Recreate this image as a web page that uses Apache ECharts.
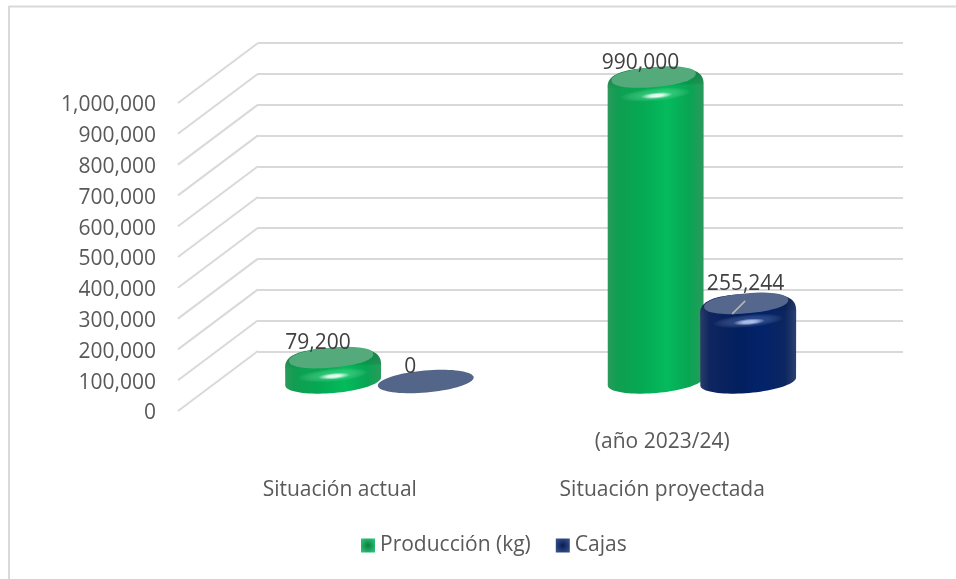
<!DOCTYPE html>
<html><head><meta charset="utf-8">
<style>html,body{margin:0;padding:0;background:#fff}#c{width:956px;height:579px}</style>
<script src="https://cdn.jsdelivr.net/npm/echarts@6/dist/echarts.min.js"></script>
</head><body><div id="c"></div>
<script>
const categories = ['Situación actual', 'Situación proyectada'];
const subCategories = ['', '(año 2023/24)'];
const produccion = [79200, 990000];
const cajas = [0, 255244];
const seriesNames = ['Producción (kg)', 'Cajas'];
const FONT = '"Open Sans", "Noto Sans", sans-serif';
const TXT = '#595959';
const GRIDC = '#d9d9d9';

const chart = echarts.init(document.getElementById('c'), null, {renderer: 'canvas'});
const fmt = v => Number(v).toLocaleString('en-US');

const TILT = -5 * Math.PI / 180;
function ell(cx, cy, a, b, t0, t1, n, ex, tilt) {
  const pts = [];
  const e = ex || 1;
  const th = tilt === undefined ? TILT : tilt;
  const pw = v => Math.sign(v) * Math.pow(Math.abs(v), e);
  for (let i = 0; i <= n; i++) {
    const t = t0 + (t1 - t0) * i / n;
    const x = a * pw(Math.cos(t)), y = b * pw(Math.sin(t));
    pts.push([cx + x * Math.cos(th) - y * Math.sin(th), cy + x * Math.sin(th) + y * Math.cos(th)]);
  }
  return pts;
}
const lg = (stops, x2, y2) => new echarts.graphic.LinearGradient(0, 0, x2, y2, stops.map(s => ({offset: s[0], color: s[1]})));
const rg = stops => new echarts.graphic.RadialGradient(0.5, 0.5, 0.5, stops.map(s => ({offset: s[0], color: s[1]})));
const PAL = [
  { body: [[0,'#2a9a5c'],[0.1,'#109e52'],[0.35,'#05a853'],[0.62,'#04bb5c'],[0.85,'#08a553'],[1,'#2a9a5c']],
    top: '#55aa7c', shade: 'rgba(0,70,35,0.3)', hi: 'rgba(235,255,245,0.95)', glow: 'rgba(40,225,125,0.55)' },
  { body: [[0,'#2a3c68'],[0.1,'#0f2660'],[0.4,'#021f5e'],[0.65,'#03236a'],[0.88,'#0b2660'],[1,'#2d4070']],
    top: '#55678c', shade: 'rgba(0,10,50,0.3)', hi: 'rgba(190,212,255,0.85)', glow: 'rgba(50,90,190,0.5)' }
];

function cylinder(idx, offsetFrac) {
  return function (params, api) {
    const cat = api.value(0), val = api.value(1);
    const base = api.coord([cat, 0]);
    const top = api.coord([cat, val]);
    const band = api.size([1, 0])[0];
    const cx = base[0] + band * offsetFrac;
    const a = band * 0.149;
    const p = PAL[idx];
    const kids = [];
    if (val === 0) {
      kids.push({type: 'polygon', shape: {points: ell(cx, base[1], a, 11, 0, Math.PI * 2, 72)}, style: {fill: '#536689'}});
    } else {
      const ty = top[1];
      const silTilt = -3 * Math.PI / 180;
      const upper = ell(cx, ty + 10, a, 19, Math.PI, Math.PI * 2, 60, 0.72, silTilt);
      const lower = ell(cx, base[1], a, 11.5, 0, Math.PI, 40);
      kids.push({type: 'polygon', shape: {points: upper.concat(lower)}, style: {fill: lg(p.body, 1, 0)}});
      kids.push({type: 'polygon', shape: {points: upper},
        style: {fill: lg([[0, p.shade], [1, 'rgba(0,0,0,0)']], 0, 1)}});
      kids.push({type: 'circle', x: cx, y: ty + 18, scaleX: 5.5, rotation: 5 * Math.PI / 180, shape: {cx: 0, cy: 0, r: 6.5},
        style: {fill: rg([[0, p.glow], [1, 'rgba(255,255,255,0)']])}});
      kids.push({type: 'circle', x: cx + 1, y: ty + 19, scaleX: 5, rotation: 5 * Math.PI / 180, shape: {cx: 0, cy: 0, r: 3.2},
        style: {fill: rg([[0, p.hi], [0.35, p.hi], [1, 'rgba(255,255,255,0)']])}});
      kids.push({type: 'polygon', shape: {points: ell(cx - 2, ty + 0.5, a * 0.88, 10, 0, Math.PI * 2, 60, 0.92)}, style: {fill: p.top}});
      if (idx === 1) {
        kids.push({type: 'line', shape: {x1: cx - 16, y1: ty + 11, x2: cx - 3, y2: ty - 2},
          style: {stroke: '#b5b5b5', lineWidth: 1.5}});
      }
    }
    return {type: 'group', children: kids};
  };
}

function labelSeries(name, values, offsetFrac, zeroFrac, dy) {
  return {
    type: 'custom', xAxisIndex: 1, yAxisIndex: 1, z: 10, silent: true,
    name: '_' + name, legendHoverLink: false,
    data: values.map((v, i) => [i, v]),
    renderItem(params, api) {
      const c = api.coord([api.value(0), api.value(1)]);
      const band = api.size([1, 0])[0];
      const zero = api.value(1) === 0;
      return {type: 'text', style: {
        text: fmt(api.value(1)), x: c[0] + band * (zero ? zeroFrac : offsetFrac), y: c[1] + (zero ? -14.5 : dy),
        align: 'center', verticalAlign: 'middle', fill: '#404040', font: '21px ' + FONT}};
    }
  };
}

const ticks = [0,100000,200000,300000,400000,500000,600000,700000,800000,900000,1000000];

chart.setOption({
  animation: false,
  backgroundColor: '#fff',
  graphic: [
    {type: 'line', shape: {x1: 8.5, y1: 6.5, x2: 956, y2: 6.5}, style: {stroke: '#d9d9d9', lineWidth: 2}, z: 0},
    {type: 'line', shape: {x1: 9, y1: 6, x2: 9, y2: 579}, style: {stroke: '#d9d9d9', lineWidth: 2}, z: 0}
  ],
  grid: [
    {left: 178, width: 645, top: 103, height: 308},
    {left: 218, width: 645, top: 73.5, height: 308},
    {left: 258, width: 645, top: 43, height: 308.5}
  ],
  legend: {
    data: [seriesNames[0], seriesNames[1]],
    left: 356, top: 530, itemWidth: 14, itemHeight: 14, itemGap: 25,
    icon: 'rect', textStyle: {color: TXT, fontFamily: FONT, fontSize: 21},
    selectedMode: false
  },
  xAxis: [
    {gridIndex: 0, type: 'category', data: categories, axisLine: {show: false}, axisTick: {show: false},
     axisLabel: {margin: 69, color: TXT, fontFamily: FONT, fontSize: 21, padding: [0,0,0,1]}},
    {gridIndex: 1, type: 'category', data: categories, show: false},
    {gridIndex: 2, type: 'category', data: categories, show: false},
    {gridIndex: 0, type: 'category', data: subCategories, position: 'bottom', axisLine: {show: false}, axisTick: {show: false},
     axisLabel: {margin: 21, color: TXT, fontFamily: FONT, fontSize: 21, padding: [0,0,0,1]}}
  ],
  yAxis: [
    {gridIndex: 0, type: 'value', min: 0, max: 1000000, interval: 100000, axisLine: {show: false}, axisTick: {show: false}, splitLine: {show: false},
     axisLabel: {margin: 22, formatter: v => '{a|' + fmt(v) + '}',
       rich: {a: {color: TXT, fontFamily: FONT, fontSize: 21, padding: [5,0,0,0]}}}},
    {gridIndex: 1, type: 'value', min: 0, max: 1000000, interval: 100000, show: false, splitLine: {show: false}},
    {gridIndex: 2, type: 'value', min: 0, max: 1000000, interval: 100000,
     axisLine: {show: false}, axisTick: {show: false}, axisLabel: {show: false},
     splitLine: {show: true, lineStyle: {color: GRIDC, width: 2}}}
  ],
  series: [
    {
      type: 'custom', xAxisIndex: 0, yAxisIndex: 0, silent: true, z: 1, legendHoverLink: false,
      name: '_walls', data: ticks.map(t => [0, t]),
      renderItem(params, api) {
        const front = api.coord([0, api.value(1)]);
        const band = api.size([1, 0])[0];
        const x0 = front[0] - band / 2;
        return {type: 'line', shape: {x1: x0, y1: front[1], x2: x0 + 80, y2: front[1] - 60},
          style: {stroke: GRIDC, lineWidth: 2}};
      }
    },
    {
      type: 'custom', name: seriesNames[0], xAxisIndex: 1, yAxisIndex: 1, z: 3, silent: true,
      itemStyle: {color: new echarts.graphic.RadialGradient(0.5, 0.5, 0.62, [{offset: 0, color: '#0a7d3e'}, {offset: 1, color: '#2cc47a'}])},
      data: produccion.map((v, i) => [i, v]), renderItem: cylinder(0, -0.143)
    },
    {
      type: 'custom', name: seriesNames[1], xAxisIndex: 1, yAxisIndex: 1, z: 4, silent: true,
      itemStyle: {color: new echarts.graphic.RadialGradient(0.5, 0.5, 0.62, [{offset: 0, color: '#0a1c50'}, {offset: 1, color: '#34528f'}])},
      data: cajas.map((v, i) => [i, v]), renderItem: cylinder(1, 0.144)
    },
    labelSeries('l1', produccion, -0.19, -0.19, -14),
    labelSeries('l2', cajas, 0.136, 0.096, -19)
  ]
});
</script></body></html>
